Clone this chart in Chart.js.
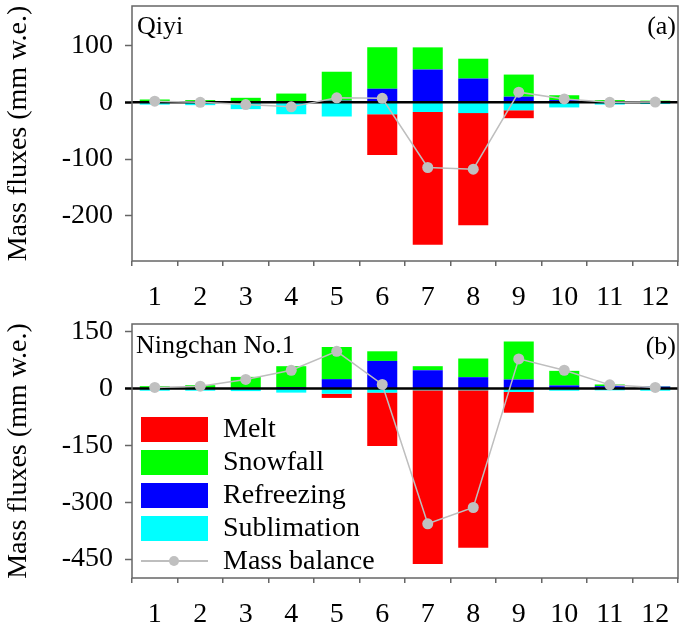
<!DOCTYPE html>
<html>
<head>
<meta charset="utf-8">
<script src="https://cdn.jsdelivr.net/npm/chart.js@4.4.1/dist/chart.umd.min.js"></script>
<style>
  html, body { margin: 0; padding: 0; background: #fff; }
  #wrap { position: relative; width: 685px; height: 629px; font-family: 'Liberation Serif', 'Times New Roman', serif; color: #000; }
  #wrapA { position: absolute; left: 0; top: 0; width: 685px; height: 315px; }
  #wrapB { position: absolute; left: 0; top: 315px; width: 685px; height: 314px; }
  .lbl { position: absolute; font-size: 26px; line-height: 1; white-space: nowrap; }
  #legend { position: absolute; left: 141px; top: 411px; font-size: 28px; }
  .row { position: relative; height: 33px; line-height: 33px; white-space: nowrap; }
  .box { position: absolute; left: 0; top: 6px; width: 67px; height: 25px; }
  .row span { position: absolute; left: 82px; top: 0; }
  .mbline { position: absolute; left: 0; top: 17px; width: 67px; height: 2px; background: #BEBEBE; }
  .mbdot { position: absolute; left: 28px; top: 13px; width: 10px; height: 10px; border-radius: 50%; background: #C0C0C0; }
</style>
</head>
<body>
<div id="wrap">
  <div id="wrapA"><canvas id="chartA" width="685" height="315"></canvas></div>
  <div id="wrapB"><canvas id="chartB" width="685" height="314"></canvas></div>
  <div class="lbl" style="left:137px; top:13px;">Qiyi</div>
  <div class="lbl" style="right:9px; top:13px;">(a)</div>
  <div class="lbl" style="left:136px; top:332px;">Ningchan No.1</div>
  <div class="lbl" style="right:9px; top:333px;">(b)</div>
  <div id="legend">
    <div class="row"><div class="box" style="background:#FF0000"></div><span>Melt</span></div>
    <div class="row"><div class="box" style="background:#00FF00"></div><span>Snowfall</span></div>
    <div class="row"><div class="box" style="background:#0000FF"></div><span>Refreezing</span></div>
    <div class="row"><div class="box" style="background:#00FFFF"></div><span>Sublimation</span></div>
    <div class="row"><div class="mbline"></div><div class="mbdot"></div><span>Mass balance</span></div>
  </div>
</div>
<script>
// ---- Data ----
const months = ['1','2','3','4','5','6','7','8','9','10','11','12'];

// Panel (a) Qiyi
const refreezingA  = [0, 0, 1, 0, 3, 24, 58, 42, 10, 4, 0, 0];
const snowfallA    = [5, 4, 7, 15.5, 51, 73, 39, 35, 39, 8.5, 4, 3];
const sublimationA = [-4, -5, -12, -21, -25, -21, -17, -19, -14, -9, -4, -3];
const meltA        = [0, 0, 0, 0, 0, -72, -234.5, -198, -14, 0, 0, 0];
const massBalanceA = [2, 0, -4, -8, 8, 7, -115, -118, 18, 6, 0, 0.5];
const yTicksA = [-200, -100, 0, 100];

// Panel (b) Ningchan No.1
const refreezingB  = [0, 1, 0, 3.5, 24.5, 72.6, 48, 29.7, 23.6, 8, 6, 5];
const snowfallB    = [6, 7.7, 30.5, 55.2, 85.1, 25.4, 10.7, 49.3, 100, 38.4, 4.5, 1];
const sublimationB = [-6, -6, -7, -11, -14, -11, -5, -5, -9, -6, -5, -6];
const meltB        = [0, 0, 0, 0, -11, -141, -458, -415, -55, 0, 0, 0];
const massBalanceB = [2.6, 6, 23.7, 48, 98, 10.5, -357, -314, 78, 48, 9.5, 2.6];
const yTicksB = [-450, -300, -150, 0, 150];

// ---- Styling ----
const FONT = "'Liberation Serif', 'Times New Roman', serif";
const FRAME = '#666666';

const framePlugin = {
  id: 'frame',
  beforeDatasetDraw(chart, args) {
    if (args.index === 4) {
      const y = chart.scales.y.getPixelForValue(0);
      const a = chart.chartArea;
      const ctx = chart.ctx;
      ctx.save();
      ctx.strokeStyle = '#000';
      ctx.lineWidth = 2.5;
      ctx.beginPath();
      ctx.moveTo(a.left, y);
      ctx.lineTo(a.right, y);
      ctx.stroke();
      ctx.restore();
    }
  },
  afterDraw(chart) {
    const a = chart.chartArea;
    const ctx = chart.ctx;
    ctx.save();
    ctx.strokeStyle = FRAME;
    ctx.lineWidth = 1.5;
    ctx.strokeRect(a.left, a.top, a.right - a.left, a.bottom - a.top);
    ctx.restore();
  }
};

function zeroPad(s) { s.paddingTop = 0; s.paddingBottom = 0; s.paddingLeft = 0; s.paddingRight = 0; }

function makeChart(id, refr, snow, subl, melt, mb, yMin, yMax, yTicks, pad) {
  return new Chart(document.getElementById(id), {
    data: {
      labels: months,
      datasets: [
        { type: 'bar', label: 'Refreezing', data: refr, backgroundColor: '#0000FF', stack: 'flux' },
        { type: 'bar', label: 'Sublimation', data: subl, backgroundColor: '#00FFFF', stack: 'flux' },
        { type: 'bar', label: 'Snowfall', data: snow, backgroundColor: '#00FF00', stack: 'flux' },
        { type: 'bar', label: 'Melt', data: melt, backgroundColor: '#FF0000', stack: 'flux' },
        { type: 'line', label: 'Mass balance', data: mb, stack: 'mb',
          borderColor: '#BEBEBE', borderWidth: 1.5, pointRadius: 5.5, pointHoverRadius: 5.5,
          pointBackgroundColor: '#C0C0C0', pointBorderWidth: 0, tension: 0, order: -1 }
      ]
    },
    options: {
      responsive: false,
      animation: false,
      devicePixelRatio: 1,
      layout: { padding: pad },
      datasets: { bar: { barPercentage: 0.66, categoryPercentage: 1, borderWidth: 0 } },
      plugins: { legend: { display: false }, tooltip: { enabled: false } },
      scales: {
        x: {
          stacked: true,
          grid: { drawOnChartArea: false, drawTicks: true, tickLength: 5, color: FRAME, lineWidth: 1.5 },
          border: { display: false },
          ticks: { font: { family: FONT, size: 28 }, color: '#000', padding: 15, maxRotation: 0, autoSkip: false },
          afterFit(s) { s.height = 51; zeroPad(s); }
        },
        y: {
          stacked: true,
          min: yMin, max: yMax,
          afterBuildTicks(s) { s.ticks = yTicks.map(v => ({ value: v })); },
          grid: {
            drawOnChartArea: false, drawTicks: true, tickLength: 7,
            tickColor: c => (c.tick && c.tick.value === 0 ? '#000' : FRAME),
            tickWidth: c => (c.tick && c.tick.value === 0 ? 2.5 : 1.5)
          },
          border: { display: false },
          ticks: { font: { family: FONT, size: 28 }, color: '#000', padding: 12,
                   callback: v => String(v) },
          title: { display: true, text: 'Mass fluxes (mm w.e.)', font: { family: FONT, size: 28 }, color: '#000', padding: { top: 2, bottom: 0 } },
          afterFit(s) { s.width = 132; zeroPad(s); }
        }
      }
    },
    plugins: [framePlugin]
  });
}

makeChart('chartA', refreezingA, snowfallA, sublimationA, meltA, massBalanceA, -280, 170, yTicksA,
  { top: 6, right: 7, bottom: 3, left: 0 });
makeChart('chartB', refreezingB, snowfallB, sublimationB, meltB, massBalanceB, -500, 170, yTicksB,
  { top: 9, right: 7, bottom: 0, left: 0 });
</script>
</body>
</html>
